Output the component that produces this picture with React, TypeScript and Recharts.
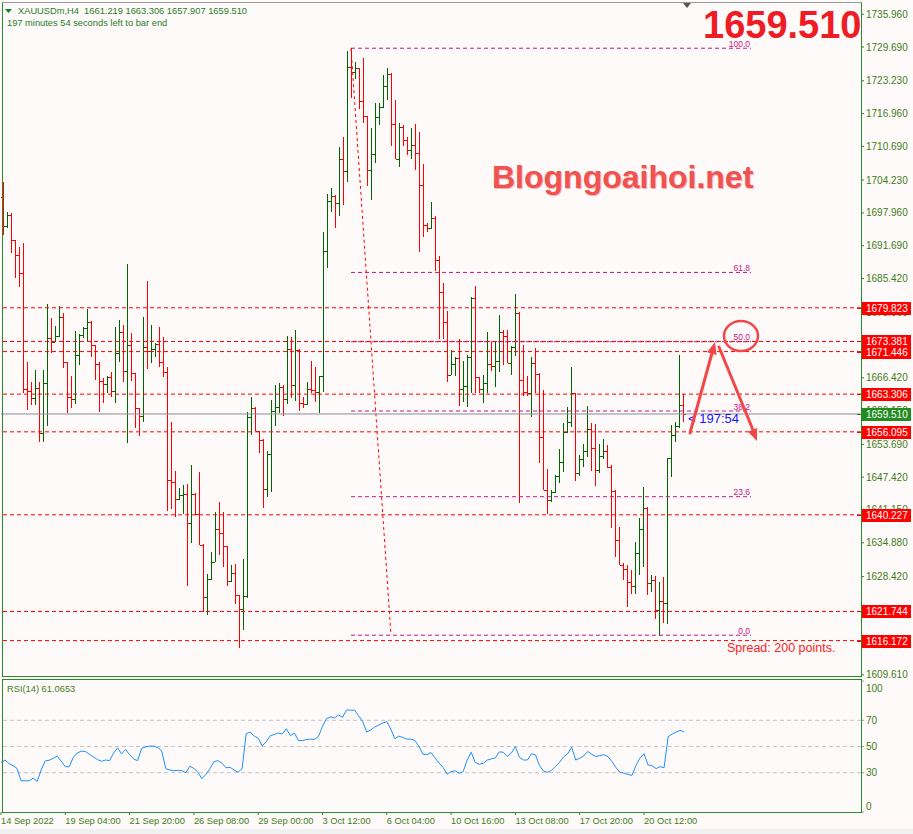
import React from "react";
import { ComposedChart, Bar, Line, XAxis, YAxis, ReferenceLine } from "recharts";

// XAUUSDm H4 bars (oldest first)
const HIGH = [
  1703.84, 1698.11, 1697.91, 1692.75, 1691.41, 1692.18, 1669.43, 1665.6, 1667.9, 1665.6,
  1667.9, 1680.52, 1677.84, 1676.31, 1680.13, 1678.79, 1669.43, 1666.75, 1675.35, 1674.78,
  1676.12, 1679.56, 1677.26, 1672.68, 1669.43, 1666.37, 1666.75, 1667.51, 1676.12, 1677.46,
  1676.5, 1688.16, 1674.97, 1667.32, 1660.63, 1678.03, 1684.91, 1676.5, 1673.06, 1676.12,
  1674.21, 1668.47, 1657.95, 1648.58, 1645.33, 1645.91, 1646.1, 1649.73, 1644.38, 1648.39,
  1634.63, 1628.89, 1633.1, 1640.75, 1642.66, 1640.75, 1634.24, 1630.61, 1630.8, 1624.88,
  1631.76, 1659.87, 1662.73, 1660.82, 1656.23, 1654.7, 1652.41, 1662.16, 1665.03, 1665.41,
  1665.03, 1674.4, 1674.21, 1675.54, 1671.91, 1662.73, 1665.6, 1669.62, 1668.47, 1666.75,
  1694.28, 1701.55, 1702.69, 1701.36, 1710.53, 1712.45, 1728.89, 1729.46, 1726.79, 1725.64,
  1727.55, 1716.46, 1714.17, 1718.95, 1718.95, 1724.3, 1725.64, 1724.68, 1719.52, 1715.12,
  1714.74, 1712.45, 1714.17, 1714.93, 1713.4, 1707.28, 1696.0, 1700.02, 1697.34, 1689.69,
  1684.53, 1679.18, 1671.72, 1670.38, 1673.82, 1669.62, 1670.76, 1681.85, 1683.96, 1666.56,
  1666.94, 1675.16, 1673.25, 1673.44, 1678.41, 1675.54, 1675.54, 1672.48, 1682.43, 1678.99,
  1672.68, 1666.75, 1670.38, 1672.1, 1667.32, 1664.07, 1648.97, 1644.95, 1647.82, 1652.79,
  1657.76, 1660.82, 1668.47, 1663.5, 1651.64, 1653.75, 1661.01, 1657.76, 1657.57, 1653.75,
  1654.7, 1653.56, 1649.73, 1644.95, 1637.88, 1630.99, 1630.61, 1629.66, 1635.01, 1639.6,
  1645.53, 1641.7, 1628.7, 1628.51, 1627.36, 1628.32, 1651.07, 1657.38, 1657.95, 1670.76,
  1663.31,
];
const LOW = [
  1693.71, 1695.05, 1690.27, 1685.49, 1683.77, 1663.5, 1660.25, 1661.2, 1661.2, 1654.13,
  1654.13, 1657.19, 1671.15, 1673.25, 1674.21, 1668.28, 1659.67, 1660.63, 1661.4, 1668.85,
  1674.01, 1673.25, 1670.38, 1665.98, 1659.87, 1661.59, 1663.5, 1662.73, 1661.59, 1669.43,
  1665.6, 1653.94, 1665.79, 1656.81, 1655.28, 1657.95, 1668.09, 1669.23, 1670.38, 1668.47,
  1666.56, 1640.94, 1641.32, 1639.79, 1643.04, 1640.36, 1626.6, 1634.82, 1640.17, 1634.44,
  1621.63, 1621.05, 1627.74, 1631.19, 1632.52, 1630.23, 1626.6, 1627.36, 1623.16, 1614.74,
  1618.18, 1624.3, 1655.47, 1656.23, 1652.03, 1641.51, 1643.61, 1644.57, 1657.19, 1659.67,
  1659.1, 1661.4, 1662.54, 1661.97, 1660.06, 1660.63, 1661.3, 1663.5, 1661.78, 1659.67,
  1663.69, 1687.4, 1698.11, 1695.05, 1697.34, 1699.44, 1703.84, 1719.9, 1723.54, 1717.8,
  1715.12, 1703.08, 1700.4, 1707.47, 1714.74, 1717.99, 1719.52, 1710.72, 1708.24, 1706.71,
  1710.72, 1709.0, 1708.24, 1706.14, 1690.46, 1693.33, 1694.28, 1694.9, 1686.82, 1673.82,
  1673.82, 1665.6, 1666.94, 1666.75, 1661.01, 1661.78, 1660.82, 1663.5, 1663.5, 1663.5,
  1661.59, 1663.5, 1667.7, 1664.65, 1667.51, 1668.85, 1669.23, 1666.94, 1670.57, 1642.47,
  1662.92, 1662.92, 1658.91, 1663.5, 1650.11, 1644.95, 1640.36, 1642.66, 1644.38, 1646.29,
  1648.39, 1655.85, 1657.0, 1646.67, 1647.63, 1649.35, 1651.26, 1648.58, 1645.72, 1648.2,
  1650.88, 1649.16, 1637.69, 1632.14, 1630.61, 1627.74, 1622.58, 1625.07, 1625.07, 1628.7,
  1630.23, 1624.88, 1625.45, 1620.29, 1617.04, 1619.52, 1619.33, 1647.44, 1654.13, 1656.81,
  1657.91,
];
const OPEN = [
  1701.0, 1695.43, 1697.53, 1692.75, 1689.88, 1686.44, 1664.26, 1663.88, 1662.54, 1664.45,
  1655.85, 1665.41, 1674.01, 1673.25, 1674.4, 1678.03, 1669.43, 1662.73, 1662.35, 1670.76,
  1674.59, 1675.93, 1677.07, 1672.68, 1669.04, 1665.79, 1665.22, 1666.56, 1663.88, 1671.15,
  1675.16, 1667.7, 1672.68, 1667.32, 1660.63, 1659.1, 1672.29, 1671.53, 1671.91, 1672.87,
  1669.43, 1667.51, 1646.86, 1646.48, 1643.23, 1644.0, 1644.19, 1638.64, 1644.19, 1640.36,
  1634.44, 1624.49, 1627.94, 1631.19, 1637.5, 1636.73, 1634.24, 1627.55, 1629.08, 1624.88,
  1622.2, 1624.68, 1658.91, 1660.63, 1656.23, 1654.51, 1645.14, 1651.84, 1660.06, 1660.82,
  1664.65, 1662.35, 1671.91, 1665.03, 1671.72, 1661.59, 1661.4, 1664.26, 1664.07, 1663.69,
  1666.75, 1690.65, 1700.21, 1701.16, 1699.83, 1708.24, 1705.94, 1725.83, 1724.87, 1725.64,
  1719.33, 1716.46, 1706.14, 1709.2, 1716.27, 1718.18, 1722.2, 1724.49, 1714.93, 1708.24,
  1714.36, 1711.87, 1709.96, 1710.92, 1709.39, 1703.27, 1695.62, 1695.05, 1696.96, 1688.93,
  1682.81, 1677.07, 1666.94, 1669.04, 1670.19, 1664.26, 1664.84, 1670.38, 1681.66, 1666.56,
  1664.26, 1665.41, 1669.04, 1668.66, 1669.62, 1675.16, 1674.4, 1669.23, 1672.29, 1678.79,
  1665.98, 1663.69, 1663.5, 1669.23, 1667.13, 1655.09, 1644.95, 1643.04, 1644.57, 1647.63,
  1650.31, 1656.04, 1657.95, 1663.5, 1648.2, 1650.88, 1652.41, 1656.62, 1652.98, 1648.78,
  1651.45, 1652.41, 1649.35, 1644.76, 1635.39, 1630.61, 1629.85, 1627.36, 1626.6, 1632.91,
  1637.5, 1641.51, 1627.17, 1627.74, 1622.01, 1623.73, 1623.35, 1651.07, 1655.47, 1657.19,
  1661.22,
];
const CLOSE = [
  1695.43, 1697.53, 1692.75, 1689.88, 1686.44, 1664.26, 1663.88, 1662.54, 1664.45, 1655.85,
  1665.41, 1674.01, 1673.25, 1674.4, 1678.03, 1669.43, 1662.73, 1662.35, 1670.76, 1674.59,
  1675.93, 1677.07, 1672.68, 1669.04, 1665.79, 1665.22, 1666.56, 1663.88, 1671.15, 1675.16,
  1667.7, 1672.68, 1667.32, 1660.63, 1659.1, 1672.29, 1671.53, 1671.91, 1672.87, 1669.43,
  1667.51, 1646.86, 1646.48, 1643.23, 1644.0, 1644.19, 1638.64, 1644.19, 1640.36, 1634.44,
  1624.49, 1627.94, 1631.19, 1637.5, 1636.73, 1634.24, 1627.55, 1629.08, 1624.88, 1622.2,
  1624.68, 1658.91, 1660.63, 1656.23, 1654.51, 1645.14, 1651.84, 1660.06, 1660.82, 1664.65,
  1662.35, 1671.91, 1665.03, 1671.72, 1661.59, 1661.4, 1664.26, 1664.07, 1663.69, 1666.75,
  1690.65, 1700.21, 1701.16, 1699.83, 1708.24, 1705.94, 1725.83, 1724.87, 1725.64, 1719.33,
  1716.46, 1706.14, 1709.2, 1716.27, 1718.18, 1722.2, 1724.49, 1714.93, 1708.24, 1714.36,
  1711.87, 1709.96, 1710.92, 1709.39, 1703.27, 1695.62, 1695.05, 1696.96, 1688.93, 1682.81,
  1677.07, 1666.94, 1669.04, 1670.19, 1664.26, 1664.84, 1670.38, 1681.66, 1666.56, 1664.26,
  1665.41, 1669.04, 1668.66, 1669.62, 1675.16, 1674.4, 1669.23, 1672.29, 1678.79, 1665.98,
  1663.69, 1663.5, 1669.23, 1667.13, 1655.09, 1644.95, 1643.04, 1644.57, 1647.63, 1650.31,
  1656.04, 1657.95, 1663.5, 1648.2, 1650.88, 1652.41, 1656.62, 1652.98, 1648.78, 1651.45,
  1652.41, 1649.35, 1644.76, 1635.39, 1630.61, 1629.85, 1627.36, 1626.6, 1632.91, 1637.5,
  1641.51, 1627.17, 1627.74, 1622.01, 1623.73, 1623.35, 1651.07, 1655.47, 1657.19, 1661.22,
  1659.51,
];
const RSI = [
  37.9, 39.7, 36.9, 35.4, 33.1, 23.8, 23.8, 23.8, 25.9, 23.3,
  32.1, 39.0, 39.5, 41.0, 42.6, 38.7, 34.6, 34.6, 41.8, 45.1,
  46.4, 46.2, 44.1, 42.1, 40.0, 38.7, 39.7, 39.2, 44.9, 49.0,
  44.4, 47.7, 43.8, 40.5, 39.2, 48.5, 49.7, 50.3, 50.3, 49.2,
  46.7, 33.1, 32.1, 31.5, 31.8, 31.5, 30.0, 34.9, 33.3, 30.3,
  25.4, 28.7, 33.1, 38.5, 39.2, 37.2, 33.8, 34.1, 32.1, 30.3,
  33.1, 59.7, 61.0, 57.9, 56.4, 50.5, 53.6, 58.2, 59.2, 60.3,
  59.5, 63.6, 58.2, 60.3, 54.6, 54.4, 55.4, 55.6, 55.4, 57.7,
  65.4, 71.3, 72.6, 71.8, 74.1, 72.3, 77.9, 77.7, 77.7, 73.3,
  69.0, 61.0, 62.6, 64.9, 66.4, 67.9, 69.0, 63.3, 55.9, 57.9,
  56.9, 55.6, 55.6, 54.6, 50.0, 44.1, 43.8, 45.4, 41.3, 37.4,
  34.0, 28.9, 30.8, 31.5, 29.5, 30.8, 39.7, 45.6, 37.9, 36.4,
  37.2, 39.7, 40.5, 41.3, 45.9, 45.6, 42.3, 45.1, 50.0, 41.8,
  39.7, 39.7, 44.4, 43.6, 35.4, 31.3, 30.3, 31.8, 34.9, 37.9,
  42.1, 44.4, 49.5, 39.7, 41.0, 42.8, 46.2, 44.1, 42.3, 43.1,
  43.8, 42.3, 38.7, 34.1, 30.3, 29.7, 28.7, 27.9, 35.4, 41.3,
  44.6, 35.9, 35.4, 33.1, 34.6, 33.8, 57.4, 59.5, 61.0, 62.3,
  61.07,
];

const PRICE_TICKS = [
  1735.96, 1729.69, 1723.23, 1716.96, 1710.69, 1704.23, 1697.96, 1691.69, 1685.42, 1678.96,
  1672.69, 1666.42, 1660.15, 1653.69, 1647.42, 1641.15, 1634.88, 1628.42, 1622.15, 1615.88, 1609.61,
];
const PRICE_DOMAIN = [1609.4, 1738.3];
const LEVELS = [1679.823, 1673.381, 1671.446, 1663.306, 1656.095, 1640.227, 1621.744, 1616.172];
const LAST_PRICE = 1659.51;
const FIB_LABELS = ["100.0", "61.8", "50.0", "38.2", "23.6", "0.0"];
const FIB_PRICES = [1729.46, 1686.58, 1673.33, 1660.08, 1643.69, 1617.2];
const FIB_FROM = 87;
const FIB_TO = 187;
const SWING = [
  { bar: 87, price: 1729.46 },
  { bar: 97, price: 1617.2 },
];
const RSI_TICKS = [0, 30, 50, 70, 100];
const RSI_LEVELS = [30, 50, 70];
const TIME_TICKS = [0, 16, 32, 48, 64, 80, 96, 112, 128, 144, 160];
const TIME_LABELS = [
  "14 Sep 2022", "19 Sep 04:00", "21 Sep 20:00", "26 Sep 08:00", "29 Sep 00:00", "3 Oct 12:00",
  "6 Oct 04:00", "10 Oct 16:00", "13 Oct 08:00", "17 Oct 20:00", "20 Oct 12:00",
];
const SLOTS = 215; // chart shift leaves empty space on the right

const BG = "#fffafa";
const BULL = "#006400";
const BEAR = "#ff0000";
const FRAME = "#2a8a2a";
const AXIS_TEXT = "#3d7d18";
const FIB = "#c71585";
const FONT = "'Liberation Sans', Arial, sans-serif";

const rows = Array.from({ length: SLOTS }, (_, i) =>
  i < CLOSE.length
    ? { i, range: [LOW[i], HIGH[i]], open: OPEN[i], high: HIGH[i], low: LOW[i], close: CLOSE[i], rsi: RSI[i] }
    : { i }
);

function OhlcBar(props: any) {
  const { x, y, width, height, payload } = props;
  if (payload == null || payload.high == null || !Number.isFinite(y)) return null;
  const cx = Math.round(x + width / 2);
  const span = payload.high - payload.low;
  const py = (p: number) => Math.round(y + (span === 0 ? 0 : ((payload.high - p) / span) * height));
  const color = payload.close >= payload.open ? BULL : BEAR;
  const top = Math.round(y);
  const bottom = Math.max(top + 1, Math.round(y + height));
  return (
    <g shapeRendering="crispEdges">
      <rect x={cx} y={top} width={1} height={bottom - top} fill={color} />
      <rect x={cx - 2} y={py(payload.open)} width={2} height={1} fill={color} />
      <rect x={cx + 1} y={py(payload.close)} width={2} height={1} fill={color} />
    </g>
  );
}

function PriceTick(props: any) {
  return (
    <text x={props.x} y={props.y} dy={3.5} fill={AXIS_TEXT} fontSize={10} fontFamily={FONT}>
      {Number(props.payload.value).toFixed(3)}
    </text>
  );
}

function RsiTick(props: any) {
  const v = props.payload.value;
  const shift = v === 100 ? 7 : v === 0 ? -6 : 0;
  return (
    <text x={props.x} y={props.y + shift} dy={3.5} fill={AXIS_TEXT} fontSize={10} fontFamily={FONT}>
      {v}
    </text>
  );
}

function TimeTick(props: any) {
  const idx = TIME_TICKS.indexOf(props.payload.value);
  return (
    <text x={props.x} y={props.y} dy={9} fill={AXIS_TEXT} fontSize={9.3} fontFamily={FONT} textAnchor="start">
      {TIME_LABELS[idx]}
    </text>
  );
}

const priceTag = (value: number, bg: string) => (props: any) => {
  const vb = props.viewBox;
  if (!vb) return null;
  const y = Math.round(vb.y);
  const x0 = Math.round(vb.x + vb.width);
  return (
    <g shapeRendering="crispEdges">
      <rect x={x0 - 4} y={y} width={4} height={1} fill={bg} />
      <rect x={x0 + 1} y={y - 6} width={49} height={13} fill={bg} />
      <text x={x0 + 5} y={y + 4} fill="#ffffff" fontSize={10} fontFamily={FONT} shapeRendering="auto">
        {value.toFixed(3)}
      </text>
    </g>
  );
};

const fibLabel = (text: string) => (props: any) => {
  const vb = props.viewBox;
  if (!vb) return null;
  return (
    <text x={vb.x + vb.width - 1} y={vb.y - 1.5} fill={FIB} fontSize={8.5} fontFamily={FONT} textAnchor="end">
      {text}
    </text>
  );
};

export default function App() {
  return (
    <div style={{ position: "relative", width: 913, height: 834, background: BG, overflow: "hidden", fontFamily: FONT }}>
      <style>{"body{margin:0}"}</style>

      <div style={{ position: "absolute", left: 0, top: 678 }}>
        <ComposedChart width={913} height={156} data={rows} margin={{ top: 3, right: 0, bottom: 0, left: 1 }}>
          <XAxis
            dataKey="i"
            ticks={TIME_TICKS}
            interval={0}
            height={22}
            axisLine={false}
            tickLine={{ stroke: FRAME }}
            tickSize={3}
            tickMargin={0}
            tick={<TimeTick />}
          />
          <YAxis
            orientation="right"
            width={52}
            domain={[0, 100]}
            ticks={RSI_TICKS}
            interval={0}
            axisLine={false}
            tickLine={{ stroke: "#a0a0a0" }}
            tickSize={3}
            tickMargin={2}
            tick={<RsiTick />}
          />
          {RSI_LEVELS.map((v) => (
            <ReferenceLine key={v} y={v} stroke="#c4c4c4" strokeDasharray="4 3" />
          ))}
          <Line dataKey="rsi" stroke="#1e90ff" strokeWidth={1} dot={false} isAnimationActive={false} />
        </ComposedChart>
      </div>

      <div style={{ position: "absolute", left: 0, top: 0 }}>
        <ComposedChart width={913} height={690} data={rows} margin={{ top: 2, right: 0, bottom: 14, left: 1 }}>
          <XAxis dataKey="i" hide />
          <YAxis
            orientation="right"
            width={52}
            domain={PRICE_DOMAIN}
            ticks={PRICE_TICKS}
            interval={0}
            allowDataOverflow
            axisLine={false}
            tickLine={{ stroke: FRAME }}
            tickSize={3}
            tickMargin={2}
            tick={<PriceTick />}
          />
          <Bar dataKey="range" shape={<OhlcBar />} isAnimationActive={false} />
          {FIB_PRICES.map((p, k) => (
            <ReferenceLine
              key={"fib" + k}
              segment={[{ x: FIB_FROM, y: p }, { x: FIB_TO, y: p }]}
              stroke={FIB}
              strokeDasharray="4 3"
              label={fibLabel(FIB_LABELS[k])}
            />
          ))}
          <ReferenceLine
            segment={[{ x: SWING[0].bar, y: SWING[0].price }, { x: SWING[1].bar, y: SWING[1].price }]}
            stroke={BEAR}
            strokeDasharray="3 3"
          />
          <ReferenceLine y={LAST_PRICE} stroke="#8a8d99" />
          {LEVELS.map((v) => (
            <ReferenceLine key={v} y={v} stroke={BEAR} strokeDasharray="4 3" />
          ))}
        </ComposedChart>
      </div>

      {/* price tags on the scale, drawn above the tick labels */}
      <div style={{ position: "absolute", left: 0, top: 0, pointerEvents: "none" }}>
        <ComposedChart width={913} height={690} data={rows} margin={{ top: 2, right: 52, bottom: 14, left: 1 }}>
          <XAxis dataKey="i" hide />
          <YAxis hide domain={PRICE_DOMAIN} allowDataOverflow />
          <ReferenceLine y={LAST_PRICE} stroke="none" label={priceTag(LAST_PRICE, "#228b22")} />
          {LEVELS.map((v) => (
            <ReferenceLine key={v} y={v} stroke="none" label={priceTag(v, BEAR)} />
          ))}
        </ComposedChart>
      </div>

      {/* panel frames */}
      <div style={{ position: "absolute", left: 2, top: 2, width: 860, height: 675, border: `1px solid ${FRAME}`, borderTopColor: "#9a9a9a", boxSizing: "border-box", pointerEvents: "none" }} />
      <div style={{ position: "absolute", left: 2, top: 679, width: 860, height: 134, border: `1px solid ${FRAME}`, boxSizing: "border-box", pointerEvents: "none" }} />
      <div style={{ position: "absolute", left: 0, top: 829, width: 913, height: 5, background: "#f0f0f0" }} />

      {/* header */}
      <div style={{ position: "absolute", left: 18, top: 6, fontSize: 9.3, color: "#1e7d1e", whiteSpace: "pre" }}>
        XAUUSDm,H4  1661.219 1663.306 1657.907 1659.510
      </div>
      <div style={{ position: "absolute", left: 7, top: 18, fontSize: 9.3, color: "#1e7d1e" }}>
        197 minutes 54 seconds left to bar end
      </div>
      <div style={{ position: "absolute", left: 7, top: 684, fontSize: 9.3, color: "#3d7d18" }}>RSI(14) 61.0653</div>

      <div style={{ position: "absolute", left: 703, top: 10, fontSize: 38, fontWeight: 700, color: "#ee1c25", lineHeight: "30px" }}>
        1659.510
      </div>
      <div style={{ position: "absolute", left: 492, top: 160, fontSize: 32, fontWeight: 700, color: "#ef5350", lineHeight: "34px", textShadow: "1px 1px 0 #f8b0b0" }}>
        Blogngoaihoi.net
      </div>
      <div style={{ position: "absolute", left: 727, top: 641, fontSize: 12.5, color: "#ff2020", lineHeight: "14px" }}>
        Spread: 200 points.
      </div>
      <div style={{ position: "absolute", left: 688, top: 411, fontSize: 13, color: "#1515ff", lineHeight: "16px", whiteSpace: "pre" }}>
        {"< 197:54"}
      </div>

      <svg width={913} height={834} style={{ position: "absolute", left: 0, top: 0, pointerEvents: "none" }}>
        <polygon points="5,9 12,9 8.5,13" fill="#1e7d1e" />
        <polygon points="683,3 691,3 687,8" fill="#555" />
        <line x1={690} y1={433} x2={712} y2={353} stroke="#f04848" strokeWidth={3} strokeLinecap="round" />
        <polygon points="715,342 716.6,355 707,352.3" fill="#f04848" />
        <line x1={719} y1={347} x2={753} y2={430} stroke="#f04848" strokeWidth={3} strokeLinecap="round" />
        <polygon points="757,441 757.1,428 747.9,431.8" fill="#f04848" />
        <ellipse cx={741} cy={336} rx={17} ry={15} fill="none" stroke="#f04848" strokeWidth={2.5} />
      </svg>
    </div>
  );
}
